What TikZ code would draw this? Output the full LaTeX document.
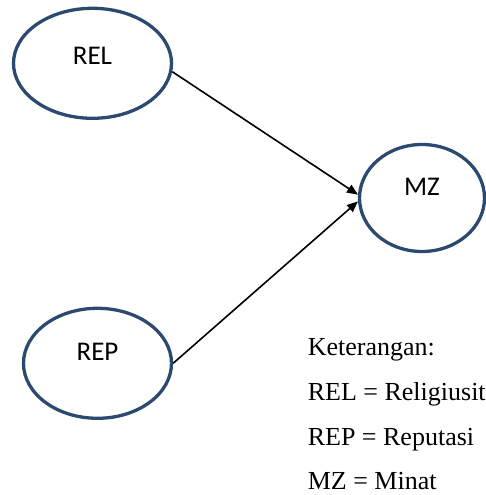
\documentclass[tikz,border=0pt]{standalone}
\usepackage{fontspec}
\setmainfont{Liberation Serif}
\newfontfamily\ovalfont{Carlito}
\usetikzlibrary{arrows.meta, shapes.geometric, positioning}
\definecolor{ovalblue}{HTML}{2C4A70}

\begin{document}
\begin{tikzpicture}[x=1pt, y=-1pt, >={Triangle[length=11pt,width=9pt]}, line width=1.6pt,
    construct/.style={ellipse, draw=ovalblue, line width=3.3pt, inner sep=0pt, text depth=23pt,
      font=\ovalfont\fontsize{27}{27}\selectfont},
    note/.style={anchor=base west, inner sep=0pt, font=\fontsize{26}{26}\selectfont}]
    \useasboundingbox (0,0) rectangle (485,495);

    %define the constructs
    \node[construct, minimum width=158pt, minimum height=110pt, text depth=15pt] (REL) at (92.5,63.3) {REL};
    \node[construct, minimum width=148pt, minimum height=110pt] (REP) at (97.5,363.3) {REP};
    \node[construct, minimum width=125pt, minimum height=107pt] (MZ)  at (422,198) {MZ};

    % define the links
    \path[->] (REL.-6) edge (MZ.177)
              (REP.east) edge (MZ.183);

    % legend
    \node[note] (ket)  at (307,355) {Keterangan:};
    \node[note] (lrel) at (307,400) {REL = Religiusit};
    \node[note] (lrep) at (307,445) {REP = Reputasi};
    \node[note] (lmz)  at (307,489) {MZ = Minat};
\end{tikzpicture}
\end{document}
